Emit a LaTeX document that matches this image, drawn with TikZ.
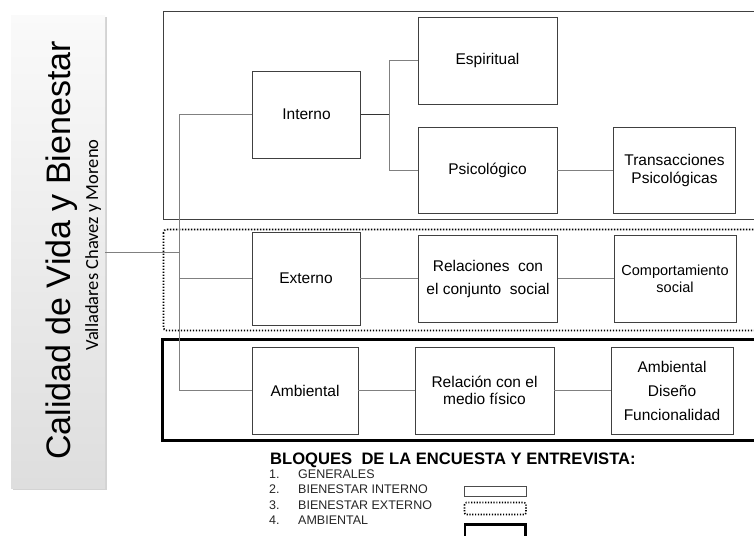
\documentclass[tikz,border=0pt]{standalone}
\usepackage{fontspec}
\setmainfont{Liberation Sans}
\newfontfamily\autorfont{Carlito}
\usepackage{tikz}
\usetikzlibrary{shadows}

\begin{document}
\begin{tikzpicture}[x=1pt,y=-1pt,
  caja/.style={draw=black!75, line width=0.7pt, inner sep=0pt, align=center,
    minimum height=87pt, font=\fontsize{15.5}{23}\selectfont},
  colA/.style={caja, minimum width=108pt},
  colB/.style={caja, minimum width=139pt},
  colC/.style={caja, minimum width=122pt},
  enlace/.style={draw=black!50, line width=0.9pt},
  leyenda/.style={anchor=base west, inner sep=0pt, text=black!85, font=\fontsize{12.5}{12.5}\selectfont}]
\useasboundingbox (0,0) rectangle (754,535);

% marco lateral
\node[draw=none, minimum width=94pt, minimum height=472pt, top color=black!2, bottom color=black!13,
  drop shadow={shadow xshift=1.5pt, shadow yshift=-1.5pt, opacity=0.35}] (marco) at (58,252) {};
\node[rotate=90, anchor=base, inner sep=0pt, font=\fontsize{34}{34}\selectfont] (titulo) at (70,250.5) {Calidad de Vida y Bienestar};
\node[rotate=90, anchor=base, inner sep=0pt, font=\autorfont\fontsize{18.5}{18.5}\selectfont] (autores) at (98,245) {Valladares Chavez y Moreno};

% bloques
\draw[black!75, line width=0.8pt] (163,11) rectangle (760,219);
\draw[line width=1.7pt, dash pattern=on 1.3pt off 1.7pt, rounded corners=3pt] (163.5,229.5) rectangle (760,330.5);
\draw[line width=3pt] (162.5,339.5) rectangle (760,440.5);

\node[colA] (interno) at (306.5,114.5) {Interno};
\node[colB] (espiritual) at (487.5,60.5) {Espiritual};
\node[colB, minimum height=86pt] (psicologico) at (487.5,170) {Psicológico};
\node[colC, minimum height=86pt] (transacciones) at (674.5,170) {Transacciones\\[-5pt]Psicológicas};

\node[colA, minimum height=93pt] (externo) at (306,278.5) {Externo};
\node[colB] (relaciones) at (488,278.5) {Relaciones\ \ con\\el conjunto\ \ social};
\node[colC, font=\fontsize{14.5}{22}\selectfont] (comportamiento) at (675,278.5) {Comportamiento\\[-5pt]social};

\node[colA, minimum width=106pt] (ambiental) at (305,390.5) {Ambiental};
\node[colB] (relacion) at (484.5,390.5) {Relación con el\\[-6pt]medio físico};
\node[colC] (diseno) at (672,390.5) {Ambiental\\[1pt]Diseño\\[1pt]Funcionalidad};

\coordinate (bus) at (179,0);
\coordinate (rama) at (389,0);
\coordinate (salida) at (105,252);

\draw[enlace] (salida) -- (bus |- salida);
\draw[enlace] (interno.west) -| (bus |- ambiental.west) -- (ambiental.west);
\draw[enlace] (externo.west) -- (bus |- externo.west);
\draw[enlace, draw=black!80] (interno.east) -- (rama |- interno.east);
\draw[enlace] (espiritual.west) -| (rama |- psicologico.west) -- (psicologico.west);
\draw[enlace] (psicologico) -- (transacciones);
\draw[enlace] (externo) -- (relaciones);
\draw[enlace] (relaciones) -- (comportamiento);
\draw[enlace] (ambiental) -- (relacion);
\draw[enlace] (relacion) -- (diseno);

% leyenda
\node[anchor=base west, inner sep=0pt, font=\bfseries\fontsize{16.6}{16.6}\selectfont] (bloques) at (270,464)
  {BLOQUES\ \ DE LA ENCUESTA Y ENTREVISTA:};
\foreach \n/\t in {1/GENERALES, 2/BIENESTAR INTERNO, 3/BIENESTAR EXTERNO, 4/AMBIENTAL}{
  \node[leyenda] (num\n) at (269,462.4+15.6*\n) {\n.};
  \node[leyenda] (item\n) at (298,462.4+15.6*\n) {\t};
}
\draw[black!70, line width=0.8pt] (464,486.5) rectangle (526,496);
\draw[line width=1.6pt, dash pattern=on 1.2pt off 1.6pt, rounded corners=2pt] (464.5,502.5) rectangle (526,514.5);
\draw[line width=2.6pt] (465,524.5) rectangle (525.5,537);
\end{tikzpicture}
\end{document}
